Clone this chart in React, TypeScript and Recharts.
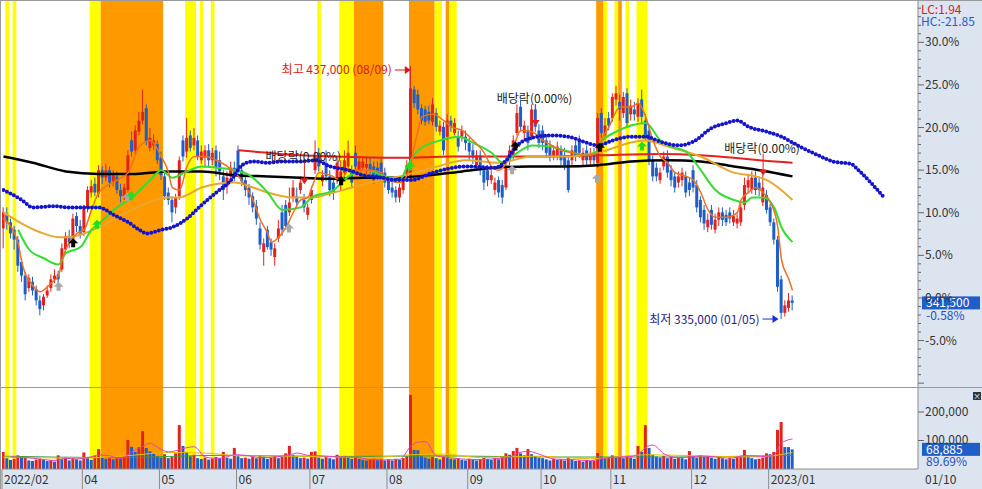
import React from "react";
import {
  ComposedChart,
  Bar,
  Line,
  XAxis,
  YAxis,
  Cell,
  ReferenceArea,
  ReferenceDot,
  ReferenceLine,
} from "recharts";

const FONT = '"Noto Sans CJK KR", "Noto Sans", sans-serif';
const UP = "#E2231D";
const DOWN = "#1F5EC8";
const YELLOW = "#FFFF00";
const ORANGE = "#FF9900";
const PANEL = "#DCE4F0";
const EDGE = "#8c8c8c";

const PLOT_R = 918;
const X0 = -0.4;
const X1 = 249.2;
const BASE = 343.5; // price at 0.0% (thousand won)

// daily candles 2022/02/28 .. 2023/01/10, thousand won
const open = [
  371.5, 377.5, 374.0, 371.0, 367.0, 358.0, 352.5, 347.5, 350.0, 347.0,
  342.5, 340.5, 344.5, 347.5, 351.0, 353.0, 355.0, 363.0, 368.5, 367.0,
  376.5, 372.5, 370.0, 380.0, 386.0, 389.5, 385.5, 395.0, 392.0, 395.0,
  390.5, 392.5, 387.0, 384.5, 387.0, 407.0, 403.0, 410.5, 415.0, 420.0,
  404.0, 405.0, 405.5, 400.0, 392.5, 386.0, 383.0, 380.0, 384.5, 407.0,
  402.5, 409.0, 405.0, 407.0, 399.0, 400.0, 403.0, 399.0, 403.0, 399.0,
  392.5, 388.5, 392.5, 396.0, 403.0, 395.0, 391.0, 388.0, 384.5, 380.5,
  371.5, 362.0, 371.0, 366.0, 360.0, 367.5, 378.0, 381.0, 378.0, 384.0,
  384.5, 387.0, 383.0, 377.0, 383.0, 395.0, 402.0, 390.5, 398.0, 392.5,
  390.0, 391.0, 392.0, 394.0, 396.5, 395.0, 402.0, 395.0, 396.0, 396.0,
  397.5, 396.5, 396.0, 398.0, 394.0, 391.0, 388.0, 387.0, 384.0, 387.0,
  392.0, 392.5, 427.5, 425.5, 420.0, 419.5, 418.5, 414.5, 418.0, 410.5,
  412.5, 408.5, 415.0, 410.0, 408.5, 408.5, 408.5, 406.0, 403.0, 397.0,
  401.0, 395.0, 395.0, 391.0, 387.0, 391.0, 389.0, 388.0, 399.0, 400.5,
  410.0, 420.5, 410.0, 411.0, 408.5, 419.5, 411.0, 411.0, 407.0, 404.5,
  400.5, 401.0, 403.0, 401.0, 399.0, 399.0, 405.0, 407.0, 399.0, 403.0,
  399.0, 402.0, 398.0, 418.0, 409.0, 416.0, 416.0, 423.5, 422.5, 418.0,
  426.0, 417.5, 419.5, 416.5, 423.5, 415.0, 411.0, 399.0, 396.0, 391.0,
  396.5, 400.5, 395.0, 392.5, 390.0, 391.0, 392.5, 390.0, 395.0, 389.0,
  383.0, 379.0, 372.0, 379.0, 371.0, 375.0, 378.0, 377.0, 378.0, 374.0,
  373.5, 374.0, 381.0, 388.0, 387.0, 392.0, 390.0, 382.0, 385.0, 380.0,
  374.0, 367.0, 351.0, 337.5, 339.5, 342.5,
];
const high = [
  380.0, 380.0, 375.5, 372.5, 368.5, 359.5, 354.0, 353.0, 352.0, 348.5,
  344.5, 345.0, 348.5, 353.0, 355.0, 354.5, 365.5, 370.0, 371.0, 377.5,
  378.0, 375.0, 381.0, 388.5, 391.0, 392.0, 397.0, 396.5, 397.5, 396.5,
  395.0, 394.5, 389.5, 389.5, 403.0, 410.5, 413.0, 418.5, 427.5, 421.5,
  412.0, 409.5, 407.0, 402.5, 394.5, 388.0, 384.5, 385.5, 400.5, 409.0,
  416.0, 411.0, 412.0, 409.0, 405.0, 405.0, 405.5, 404.0, 405.0, 402.5,
  395.0, 394.5, 398.5, 398.5, 405.0, 397.0, 393.0, 389.5, 386.0, 383.0,
  374.0, 367.5, 372.5, 367.5, 365.5, 375.0, 381.0, 383.0, 388.0, 391.0,
  388.0, 392.5, 385.5, 381.5, 388.5, 407.0, 404.0, 395.0, 403.0, 395.0,
  392.0, 400.0, 399.0, 403.0, 407.0, 397.0, 405.0, 400.5, 400.0, 400.0,
  400.0, 398.5, 398.5, 400.0, 396.0, 392.5, 390.5, 388.5, 389.5, 392.5,
  399.0, 437.0, 429.0, 427.5, 421.5, 421.0, 421.0, 424.0, 420.0, 415.0,
  414.5, 417.5, 417.0, 416.0, 411.0, 413.0, 411.0, 408.0, 405.5, 403.0,
  403.0, 397.0, 397.0, 395.0, 392.0, 392.5, 391.0, 398.0, 405.0, 409.0,
  421.5, 423.5, 415.0, 413.0, 421.5, 421.5, 413.5, 413.0, 409.5, 407.0,
  405.0, 406.5, 405.0, 404.0, 401.0, 405.0, 407.0, 409.0, 404.0, 405.0,
  404.0, 404.0, 418.0, 420.0, 416.0, 418.5, 426.0, 429.0, 425.5, 426.5,
  428.0, 423.5, 422.5, 424.0, 427.5, 417.5, 413.0, 401.0, 398.0, 396.0,
  402.5, 403.0, 397.0, 394.5, 394.5, 396.0, 394.5, 392.0, 397.0, 391.0,
  384.5, 381.0, 377.5, 381.0, 377.5, 380.0, 380.0, 379.0, 380.0, 379.0,
  377.5, 381.5, 392.0, 393.0, 394.5, 394.5, 392.5, 393.0, 387.0, 381.5,
  375.5, 368.5, 352.5, 342.5, 345.5, 344.5,
];
const low = [
  363.5, 371.0, 367.5, 363.0, 354.0, 350.0, 342.5, 346.0, 344.5, 340.5,
  336.5, 338.5, 343.5, 346.0, 349.5, 349.0, 354.0, 361.0, 363.5, 365.5,
  370.0, 367.5, 368.5, 378.0, 384.0, 384.5, 384.0, 389.5, 390.5, 388.0,
  388.5, 385.5, 382.0, 383.0, 386.0, 400.5, 401.5, 409.0, 413.5, 405.0,
  402.5, 403.0, 397.5, 391.0, 383.0, 381.0, 374.0, 377.5, 383.0, 398.5,
  400.0, 402.5, 403.0, 399.0, 397.5, 396.0, 396.5, 397.0, 392.5, 391.0,
  383.0, 385.5, 390.5, 390.5, 392.5, 388.5, 384.5, 381.0, 378.0, 373.0,
  363.0, 356.5, 363.0, 360.5, 356.5, 366.0, 368.5, 371.0, 376.5, 382.0,
  380.0, 385.5, 378.0, 375.0, 381.5, 393.5, 394.5, 388.5, 390.5, 384.5,
  383.0, 389.5, 387.0, 391.0, 395.0, 388.0, 394.5, 393.5, 394.5, 393.5,
  392.5, 389.5, 390.5, 390.5, 388.0, 385.5, 384.0, 382.0, 382.0, 385.5,
  390.5, 392.0, 420.0, 417.5, 413.5, 413.0, 413.5, 413.0, 410.5, 409.0,
  401.0, 407.0, 410.5, 409.0, 402.5, 406.5, 403.0, 399.0, 397.5, 395.0,
  393.0, 387.0, 388.5, 389.5, 385.0, 384.0, 381.5, 387.0, 397.0, 399.0,
  409.0, 410.5, 407.0, 403.0, 407.0, 410.5, 404.0, 403.0, 400.0, 398.5,
  399.0, 399.0, 397.0, 395.0, 386.0, 397.0, 398.5, 400.0, 397.0, 397.0,
  396.5, 397.0, 396.0, 408.0, 407.0, 411.0, 414.5, 421.0, 415.0, 416.0,
  412.0, 415.0, 415.0, 414.5, 413.5, 407.0, 397.0, 390.5, 390.5, 389.5,
  395.0, 392.0, 388.5, 386.0, 388.0, 388.5, 384.0, 384.5, 386.0, 378.0,
  374.0, 371.0, 370.0, 371.0, 369.5, 372.5, 372.5, 372.5, 373.5, 372.5,
  371.5, 372.5, 379.0, 386.0, 385.5, 385.0, 384.5, 380.5, 377.5, 372.5,
  365.0, 346.0, 335.0, 336.0, 338.0, 338.5,
];
const close = [
  378.0, 374.0, 369.5, 367.0, 356.5, 352.5, 345.0, 351.5, 346.5, 342.5,
  339.0, 344.0, 346.5, 351.0, 352.5, 351.0, 363.5, 368.5, 366.0, 375.5,
  372.5, 369.5, 380.0, 387.0, 388.5, 386.0, 395.0, 392.0, 395.0, 390.0,
  393.0, 387.0, 384.5, 388.0, 401.0, 402.5, 411.0, 415.0, 418.5, 406.5,
  408.0, 407.0, 399.0, 393.0, 384.5, 383.0, 378.0, 384.0, 399.0, 400.5,
  408.0, 404.0, 408.0, 400.5, 402.5, 403.0, 399.0, 402.0, 396.0, 394.5,
  387.0, 392.0, 396.0, 392.5, 394.5, 390.5, 387.0, 384.0, 380.0, 375.5,
  365.0, 365.5, 364.0, 363.0, 363.5, 371.5, 371.0, 372.5, 382.0, 388.0,
  382.0, 390.0, 380.0, 380.0, 387.0, 400.5, 396.5, 393.0, 392.5, 387.0,
  386.0, 398.0, 394.5, 399.0, 402.0, 390.0, 396.5, 398.5, 398.5, 397.5,
  395.0, 391.0, 392.0, 392.5, 390.0, 387.0, 386.0, 384.0, 388.0, 390.5,
  397.0, 428.0, 422.0, 419.5, 415.0, 414.5, 415.0, 421.5, 412.5, 413.0,
  403.0, 415.0, 412.5, 414.0, 404.5, 411.0, 406.0, 402.5, 400.0, 401.0,
  396.0, 390.0, 391.0, 393.0, 390.0, 386.0, 384.0, 396.5, 403.0, 407.0,
  418.0, 412.5, 413.0, 406.0, 419.5, 412.5, 406.0, 406.0, 402.0, 400.5,
  403.0, 404.5, 399.0, 397.0, 387.0, 403.0, 400.5, 402.0, 402.0, 399.0,
  402.0, 399.0, 416.0, 410.0, 413.0, 413.0, 424.5, 426.0, 419.5, 424.5,
  414.0, 421.0, 417.5, 422.0, 416.5, 409.0, 399.0, 392.5, 392.5, 394.0,
  400.5, 394.0, 391.0, 388.0, 392.5, 394.0, 386.0, 387.0, 388.0, 380.0,
  376.0, 373.5, 375.0, 373.0, 375.0, 378.0, 375.0, 374.0, 375.5, 376.5,
  375.5, 380.0, 389.0, 391.0, 392.0, 387.0, 387.0, 388.0, 379.0, 374.0,
  367.0, 348.0, 337.5, 340.5, 342.5, 341.5,
];
// volume, thousand shares
const volume = [
  60, 38, 32, 36, 48, 40, 42, 30, 28, 33,
  36, 32, 28, 31, 26, 48, 36, 41, 30, 38,
  34, 30, 58, 40, 32, 45, 70, 42, 36, 38,
  34, 40, 37, 44, 102, 78, 60, 77, 133, 74,
  62, 55, 45, 40, 52, 38, 42, 55, 154, 81,
  60, 45, 50, 38, 35, 40, 33, 36, 42, 38,
  60, 40, 36, 74, 45, 38, 40, 36, 42, 38,
  48, 44, 36, 40, 46, 38, 42, 55, 81, 50,
  44, 38, 40, 36, 60, 62, 40, 36, 44, 38,
  34, 50, 42, 46, 40, 36, 42, 35, 32, 30,
  34, 36, 31, 33, 30, 34, 30, 36, 32, 38,
  45, 260, 67, 66, 45, 40, 36, 42, 38, 34,
  44, 40, 36, 34, 38, 32, 30, 36, 33, 30,
  35, 40, 36, 32, 38, 34, 42, 55, 50, 63,
  74, 55, 48, 70, 52, 45, 40, 38, 34, 30,
  36, 32, 34, 30, 40, 32, 28, 30, 26, 32,
  28, 30, 56, 44, 38, 42, 48, 40, 44, 38,
  46, 40, 36, 81, 60, 154, 74, 50, 44, 40,
  46, 38, 42, 36, 40, 38, 34, 63, 44, 40,
  48, 42, 46, 40, 36, 44, 38, 34, 40, 36,
  42, 45, 67, 44, 38, 34, 36, 40, 55, 52,
  60, 137, 165, 77, 76.8, 68.885,
];

// moving averages: [day index, value]
const ma5 = [
  [0, 375.5], [4, 365.5], [5, 358], [8, 348.5], [10, 346], [13, 349.5], [15, 352.5], [16, 359],
  [17, 363], [20, 369.5], [22, 371], [24, 379], [26, 386], [31, 391], [34, 394], [37, 404.5],
  [40, 407], [43, 400.5], [45, 394], [46, 388], [48, 387], [50, 396.5], [52, 400.5], [55, 400.5],
  [58, 399], [61, 396.5], [64, 392.5], [68, 383], [70, 375], [72, 369.5], [73, 366], [75, 368],
  [77, 372], [79, 378], [81, 383], [83, 384], [84, 388], [86, 394], [89, 393], [92, 391],
  [94, 395], [97, 395], [100, 395], [103, 394], [105, 391], [108, 390], [110, 393], [111, 397.5],
  [112, 405], [113, 411], [114, 416.5], [117, 417.5], [120, 415], [122, 412.5], [125, 411],
  [128, 407], [131, 402], [133, 396.5], [135, 395], [137, 398], [139, 404.5], [141, 411],
  [144, 410.5], [147, 407], [150, 404.5], [152, 403], [155, 402], [159, 401], [162, 402],
  [163, 407], [165, 412.5], [168, 420.5], [171, 420.5], [173, 422], [175, 416.5], [177, 407],
  [179, 400.5], [181, 398], [183, 394], [186, 392.5], [188, 391], [190, 386], [192, 379],
  [194, 376], [197, 376], [200, 378], [201, 383], [203, 386], [205, 388], [207, 386], [209, 382],
  [211, 372], [212, 359], [214, 351], [215, 346.5],
];
const ma20 = [
  [4, 371], [7, 363], [11, 359.5], [15, 357], [17, 361.5], [21, 364], [24, 371], [26, 373.5],
  [31, 380], [35, 384], [40, 391], [43, 395], [46, 392], [50, 394.5], [54, 396.5], [58, 396],
  [63, 395], [67, 393], [72, 386], [76, 379], [81, 380], [84, 384], [90, 387], [94, 392.5],
  [99, 395], [104, 392.5], [108, 391], [110, 396.5], [113, 403], [119, 407], [124, 408.5],
  [128, 406], [133, 402], [136, 398], [140, 402], [144, 405], [149, 404.5], [154, 402.5],
  [159, 401], [162, 403], [163, 406.5], [167, 410.5], [171, 413], [175, 414], [179, 407],
  [182, 404.5], [186, 402.5], [190, 395], [194, 387], [199, 383], [202, 382], [204, 384],
  [207, 384], [210, 380], [212, 372], [215, 366],
];
const ma60 = [
  [0, 378], [5, 373.5], [10, 370], [15, 368], [18, 368], [21, 369], [26, 372], [35, 379],
  [45, 384], [48, 384], [54, 388], [63, 390], [68, 388], [72, 386], [79, 384], [84, 384],
  [90, 386], [95, 388], [103, 391], [108, 392.5], [117, 396], [126, 399], [135, 398],
  [144, 400.5], [154, 400.5], [163, 402.5], [172, 406.5], [175, 407], [181, 404.5], [190, 400.5],
  [199, 394], [205, 392.5], [208, 391], [215, 383],
];
const ma120 = [
  [0, 400.5], [8, 398], [17, 394.5], [26, 393.5], [35, 393.5], [45, 394.5], [54, 394.5],
  [63, 393], [72, 392.5], [81, 392], [89, 391.5], [98, 392], [107, 392], [116, 393],
  [125, 394.5], [134, 396], [143, 396.5], [152, 396.5], [162, 397], [171, 398.5], [181, 399],
  [190, 398.5], [199, 396.5], [206, 395], [215, 392.5],
];
const ma240 = [
  [64, 403], [72, 402], [81, 401], [90, 400.5], [108, 400], [122, 400.5], [135, 400.5],
  [149, 400.5], [163, 401], [179, 401.5], [190, 401], [199, 400], [206, 399], [215, 398],
];
const leadSpan = [
  [0, 387], [5, 383], [8, 380], [14, 380.5], [17, 380], [24, 380], [26, 380], [30, 377],
  [34, 374], [37, 371], [39, 369.5], [43, 371], [46, 372], [50, 375.5], [54, 381], [58, 386],
  [62, 391], [65, 397], [68, 398.5], [72, 398], [76, 398.5], [81, 398.5], [85, 399], [89, 396.5],
  [94, 395], [98, 393], [103, 392], [107, 391], [111, 391], [117, 394], [126, 396.5], [134, 396],
  [137, 399], [140, 405], [144, 408], [149, 409], [154, 408.5], [158, 406.5], [162, 405],
  [166, 407], [171, 408.5], [175, 408.5], [179, 406.5], [184, 405], [188, 406.5], [193, 412],
  [197, 414], [200, 415], [203, 412.5], [208, 410.5], [212, 408.5], [217, 404.5], [222, 401],
  [226, 398.5], [231, 397.5], [233, 395], [236, 390.5], [240, 384],
];
const volMa5 = [
  [2, 43], [5, 40], [8, 38], [11, 33], [14, 30], [17, 37], [20, 35], [23, 40], [26, 49],
  [29, 46], [32, 37], [35, 60], [38, 80], [40, 90], [42, 76], [45, 60], [48, 68], [50, 75],
  [52, 78], [55, 42], [58, 37], [61, 43], [63, 50], [66, 48], [70, 40], [74, 42], [78, 50],
  [80, 56], [83, 48], [85, 47], [88, 45], [92, 42], [96, 41], [100, 33], [104, 32], [108, 34],
  [111, 80], [113, 95], [115, 96], [118, 46], [122, 39], [126, 34], [130, 33], [134, 36],
  [138, 42], [140, 55], [143, 62], [146, 52], [150, 35], [155, 33], [160, 29], [162, 34],
  [165, 40], [168, 42], [171, 44], [173, 52], [175, 76], [177, 84], [180, 53], [184, 40],
  [187, 42], [190, 46], [194, 42], [198, 38], [202, 47], [205, 46], [208, 43], [210, 49],
  [212, 94], [213, 98], [214, 103], [215, 105],
];
const volMa20 = [
  [0, 42], [20, 38], [35, 48], [45, 58], [55, 56], [65, 46], [80, 45], [100, 40], [111, 50],
  [120, 52], [130, 40], [145, 45], [160, 36], [175, 50], [190, 46], [205, 42], [215, 58],
];
const volMa60 = [
  [0, 45], [30, 40], [60, 48], [90, 44], [120, 46], [150, 42], [180, 42], [215, 48],
];

// shaded signal days: [first day, last day, kind]
const bands: [number, number, string][] = [
  [1, 1, "y"], [3, 3, "y"], [24, 26, "y"], [27, 43, "o"], [50, 52, "y"], [54, 54, "y"],
  [57, 57, "y"], [86, 86, "y"], [92, 95, "y"], [96, 103, "o"], [111, 117, "o"],
  [118, 119, "y"], [121, 121, "o"], [122, 123, "y"], [162, 163, "o"], [164, 164, "y"],
  [167, 167, "y"], [168, 168, "o"], [170, 170, "y"], [173, 175, "y"],
];

const exDividend = [[82, 390.5], [145, 414], [207, 394]];
const blackSignals = [[19, 365.5], [92, 390.5], [139.5, 404.5], [162.5, 404]];
const graySignals = [[15, 348], [33.7, 384], [77.8, 371.5], [138.6, 395], [161.7, 391.5]];
const greenSignals = [[25.5, 373], [34.8, 384.5], [110.8, 396.5], [174, 404.5]];

const monthTicks = [-0.4, 21.5, 42.5, 63.5, 83.5, 104.5, 126.5, 146.5, 165.5, 187.5, 208.5];
const monthLabels = ["2022/02", "04", "05", "06", "07", "08", "09", "10", "11", "12", "2023/01"];
const lastDate = "01/10";
const highDay = 111;
const highDate = "08/09";
const lowDay = 212;
const lowDate = "01/05";

const rows = close.map((c, i) => ({ i, o: open[i], h: high[i], l: low[i], c, v: volume[i] }));
const pts = (a: number[][]) => a.map(([i, v]) => ({ i, v }));
const won = (k: number) => Math.round(k * 1000).toLocaleString("en-US");

const last = close[close.length - 1];
const lastVol = volume[volume.length - 1];
const prevVol = volume[volume.length - 2];
const maxHigh = Math.max(...high);
const minLow = Math.min(...low);
const pctTicks = Array.from({ length: 45 }, (_, k) => BASE * (1 + (k - 10) / 100));

const Candle = (p: any) => {
  const { x, y, width, height, payload } = p;
  if (x == null || !payload) return null;
  const { o, h, l, c } = payload;
  const color = c >= o ? UP : DOWN;
  const top = Math.min(y, y + height);
  const H = Math.abs(height);
  const k = h > l ? H / (h - l) : 0;
  const yo = top + (h - o) * k;
  const yc = top + (h - c) * k;
  const mid = x + width / 2;
  return (
    <g>
      <line x1={mid} x2={mid} y1={top} y2={top + H} stroke={color} strokeWidth={1} />
      <rect x={x} y={Math.min(yo, yc)} width={width} height={Math.max(1, Math.abs(yo - yc))} fill={color} />
    </g>
  );
};

const PctTick = (p: any) => {
  const k = Math.round((p.payload.value / BASE - 1) * 100);
  const major = k % 5 === 0;
  const labelled = major && k >= -5 && k <= 30;
  return (
    <g>
      <line x1={PLOT_R} x2={PLOT_R + (major ? 6 : 3)} y1={p.y} y2={p.y} stroke="#666" />
      {labelled && (
        <text x={PLOT_R + 7} y={p.y + 4} fontSize={12} fill="#333" fontFamily={FONT}>
          {k.toFixed(1)}%
        </text>
      )}
    </g>
  );
};

const VolTick = (p: any) => (
  <g>
    <line x1={PLOT_R} x2={PLOT_R + 6} y1={p.y} y2={p.y} stroke="#666" />
    <text x={PLOT_R + 7} y={p.y + 4} fontSize={12} fill="#333" fontFamily={FONT}>
      {won(p.payload.value)}
    </text>
  </g>
);

const DateTick = (p: any) => {
  const idx = monthTicks.indexOf(p.payload.value);
  return (
    <g>
      <line x1={p.x} x2={p.x} y1={81} y2={101} stroke={EDGE} />
      <text x={p.x + 2} y={96} fontSize={12} fill="#333" fontFamily={FONT}>
        {monthLabels[idx]}
      </text>
    </g>
  );
};

const PriceTag = (p: any) => {
  const y = p.viewBox ? p.viewBox.y : 0;
  return (
    <g>
      <rect x={922} y={y - 6.5} width={58} height={13} fill="#1F5EC8" />
      <text x={926} y={y + 4.5} fontSize={12} fill="#fff" fontFamily={FONT}>
        {won(last)}
      </text>
      <text x={926} y={y + 17} fontSize={12} fill="#1F4FC0" fontFamily={FONT}>
        {((last / BASE - 1) * 100).toFixed(2)}%
      </text>
    </g>
  );
};

const VolTag = (p: any) => {
  const y = p.viewBox ? p.viewBox.y : 0;
  return (
    <g>
      <rect x={922} y={y - 6.5} width={58} height={13} fill="#1F5EC8" />
      <text x={926} y={y + 4.5} fontSize={12} fill="#fff" fontFamily={FONT}>
        {won(lastVol)}
      </text>
      <text x={926} y={y + 17} fontSize={12} fill="#1F4FC0" fontFamily={FONT}>
        {((lastVol / prevVol) * 100).toFixed(2)}%
      </text>
    </g>
  );
};

const upArrow = (fill: string) => (p: any) => {
  const { cx, cy } = p;
  return (
    <polygon
      points={`${cx},${cy - 5} ${cx + 5},${cy} ${cx + 2},${cy} ${cx + 2},${cy + 4} ${cx - 2},${cy + 4} ${cx - 2},${cy} ${cx - 5},${cy}`}
      fill={fill}
    />
  );
};

const DividendMark = (p: any) => {
  const { cx, cy } = p;
  return (
    <g>
      <line x1={cx} x2={cx} y1={cy - 19} y2={cy - 3} stroke="#E02020" />
      <polygon points={`${cx - 4},${cy - 3} ${cx + 4},${cy - 3} ${cx},${cy + 3}`} fill="#E02020" />
      <text x={cx - 1} y={cy - 20} textAnchor="middle" fontSize={12} fill="#222" fontFamily={FONT}>
        배당락(0.00%)
      </text>
    </g>
  );
};

const HighMark = (p: any) => {
  const { cx, cy } = p;
  const c = "#D81818";
  return (
    <g>
      <text x={cx - 19} y={cy + 8.5} textAnchor="end" fontSize={12} fill={c} fontFamily={FONT}>
        {`최고 ${won(maxHigh)} (${highDate})`}
      </text>
      <line x1={cx - 16} x2={cx - 5} y1={cy + 4} y2={cy + 4} stroke={c} />
      <polygon points={`${cx - 6},${cy} ${cx},${cy + 4} ${cx - 6},${cy + 8}`} fill={c} />
    </g>
  );
};

const LowMark = (p: any) => {
  const { cx, cy } = p;
  return (
    <g>
      <text x={cx - 22} y={cy + 4.5} textAnchor="end" fontSize={12} fill="#1E1E8C" fontFamily={FONT}>
        {`최저 ${won(minLow)} (${lowDate})`}
      </text>
      <line x1={cx - 19} x2={cx - 8} y1={cy} y2={cy} stroke="#1030E0" />
      <polygon points={`${cx - 9},${cy - 4} ${cx - 3},${cy} ${cx - 9},${cy + 4}`} fill="#1030E0" />
    </g>
  );
};

const bandAreas = () =>
  bands.map(([a, b, kind]) => (
    <ReferenceArea
      key={`b${a}`}
      x1={a - 0.5}
      x2={b + 0.5}
      fill={kind === "o" ? ORANGE : YELLOW}
      fillOpacity={1}
      stroke="none"
      ifOverflow="hidden"
    />
  ));

const maLine = (data: number[][], color: string, width: number, key: string) => (
  <Line
    key={key}
    data={pts(data)}
    dataKey="v"
    type="monotone"
    stroke={color}
    strokeWidth={width}
    dot={false}
    activeDot={false}
    isAnimationActive={false}
  />
);

export default function App() {
  const lc = ((last / minLow - 1) * 100).toFixed(2);
  const hc = ((last / maxHigh - 1) * 100).toFixed(2);
  return (
    <div
      style={{
        position: "absolute",
        left: 0,
        top: 0,
        width: 982,
        height: 489,
        background: "#fff",
        fontFamily: FONT,
        overflow: "hidden",
      }}
    >
      <div style={{ position: "absolute", left: PLOT_R, top: 0, width: 64, height: 489, background: PANEL }} />
      <div style={{ position: "absolute", left: 0, top: 469, width: PLOT_R, height: 20, background: PANEL }} />

      <div style={{ position: "absolute", left: 0, top: 0 }}>
        <ComposedChart width={982} height={388} data={rows} margin={{ top: 0, right: 0, bottom: 0, left: 2 }}>
          {bandAreas()}
          <XAxis type="number" dataKey="i" domain={[X0, X1]} hide allowDataOverflow />
          <YAxis
            type="number"
            orientation="right"
            width={64}
            domain={[307.2, 463.6]}
            ticks={pctTicks}
            interval={0}
            tick={<PctTick />}
            tickLine={false}
            axisLine={{ stroke: EDGE }}
            allowDataOverflow
          />
          {maLine(ma240, "#E42020", 2, "m240")}
          {maLine(ma120, "#000000", 2.5, "m120")}
          {maLine(ma60, "#E8A830", 2, "m60")}
          {maLine(ma20, "#33DD33", 2, "m20")}
          <Bar
            dataKey={(r: any) => [r.l, r.h]}
            barSize={3}
            shape={<Candle />}
            isAnimationActive={false}
          />
          {maLine(ma5, "#F07020", 1.5, "m5")}
          <Line
            data={pts(leadSpan)}
            dataKey="v"
            type="monotone"
            stroke="#1414CC"
            strokeWidth={4}
            strokeDasharray="0 3.9"
            strokeLinecap="round"
            dot={false}
            activeDot={false}
            isAnimationActive={false}
          />
          {exDividend.map(([d, v]) => (
            <ReferenceDot key={`d${d}`} x={d} y={v} ifOverflow="visible" shape={DividendMark} />
          ))}
          {blackSignals.map(([d, v]) => (
            <ReferenceDot key={`k${d}`} x={d} y={v} ifOverflow="visible" shape={upArrow("#000")} />
          ))}
          {graySignals.map(([d, v]) => (
            <ReferenceDot key={`g${d}`} x={d} y={v} ifOverflow="visible" shape={upArrow("#A8A8A8")} />
          ))}
          {greenSignals.map(([d, v]) => (
            <ReferenceDot key={`n${d}`} x={d} y={v} ifOverflow="visible" shape={upArrow("#22DD22")} />
          ))}
          <ReferenceDot x={highDay} y={maxHigh} ifOverflow="visible" shape={HighMark} />
          <ReferenceDot x={lowDay} y={minLow} ifOverflow="visible" shape={LowMark} />
          <ReferenceLine y={last} stroke="none" ifOverflow="visible" label={<PriceTag />} />
        </ComposedChart>
      </div>

      <div style={{ position: "absolute", left: 0, top: 388 }}>
        <ComposedChart width={982} height={101} data={rows} margin={{ top: 0, right: 0, bottom: 0, left: 2 }}>
          {bandAreas()}
          <XAxis
            type="number"
            dataKey="i"
            domain={[X0, X1]}
            ticks={monthTicks}
            interval={0}
            height={20}
            tick={<DateTick />}
            tickLine={false}
            axisLine={{ stroke: EDGE }}
            allowDataOverflow
          />
          <YAxis
            type="number"
            orientation="right"
            width={64}
            domain={[0, 284.2]}
            ticks={[100, 200]}
            interval={0}
            tick={<VolTick />}
            tickLine={false}
            axisLine={{ stroke: EDGE }}
            allowDataOverflow
          />
          <Bar dataKey="v" barSize={3} isAnimationActive={false}>
            {rows.map((r, i) => (
              <Cell key={i} fill={i === 0 || r.v >= rows[i - 1].v ? UP : DOWN} />
            ))}
          </Bar>
          {maLine(volMa60, "#3C9C3C", 1, "v60")}
          {maLine(volMa20, "#E8C000", 1, "v20")}
          {maLine(volMa5, "#E040C8", 1, "v5")}
          <ReferenceLine y={lastVol} stroke="none" ifOverflow="visible" label={<VolTag />} />
        </ComposedChart>
      </div>

      <div style={{ position: "absolute", left: 0, top: 0, width: 982, height: 1, background: "#999" }} />
      <div style={{ position: "absolute", left: 0, top: 0, width: 1, height: 489, background: "#999" }} />
      <div style={{ position: "absolute", left: 0, top: 387, width: 982, height: 1, background: "#999" }} />
      <div style={{ position: "absolute", left: 921, top: 2, fontSize: 12, lineHeight: "13px", color: "#D82020" }}>
        LC:{lc}
      </div>
      <div style={{ position: "absolute", left: 921, top: 14, fontSize: 12, lineHeight: "13px", color: "#1F5EC8" }}>
        HC:{hc}
      </div>
      <div style={{ position: "absolute", left: 925, top: 472, fontSize: 12, lineHeight: "13px", color: "#333" }}>
        {lastDate}
      </div>
      <div
        style={{
          position: "absolute",
          left: 973,
          top: 392,
          width: 8,
          height: 8,
          background: "#333",
          color: "#fff",
          fontSize: 8,
          lineHeight: "8px",
          textAlign: "center",
        }}
      >
        ×
      </div>
    </div>
  );
}
